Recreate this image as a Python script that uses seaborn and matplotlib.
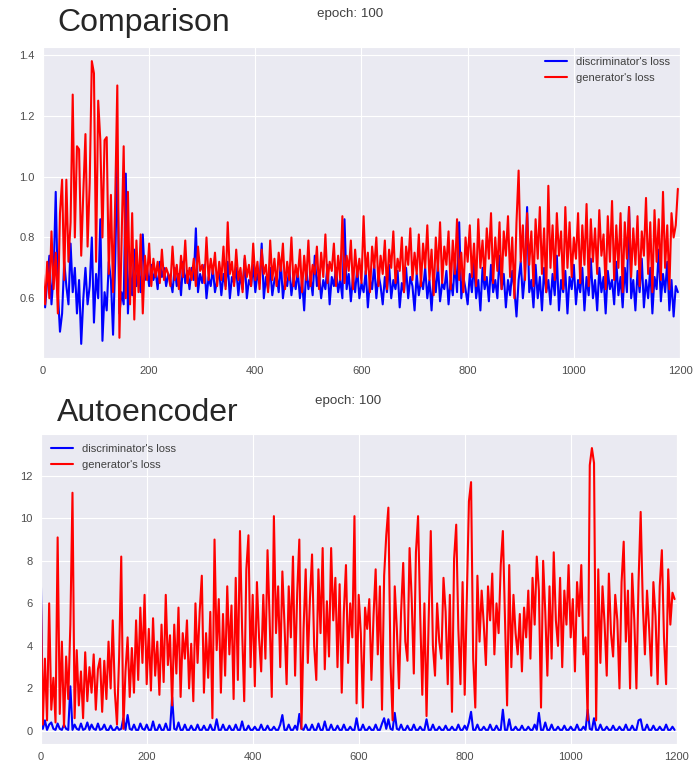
import numpy as np
import pandas as pd
import seaborn as sns
import matplotlib.pyplot as plt

# loss values, one sample every 4 epochs
epochs = np.arange(0, 1200, 4)

disc_cmp = [0.60, 0.57, 0.66, 0.74, 0.58, 0.68, 0.95, 0.62, 0.49, 0.55, 0.72, 0.64, 0.58, 0.78, 0.62, 0.70, 0.55, 0.66, 0.45, 0.60,
            0.70, 0.58, 0.64, 0.80, 0.52, 0.68, 0.60, 0.86, 0.46, 0.62, 0.56, 0.72, 0.66, 0.48, 0.72, 1.05, 0.55, 0.62, 0.58, 1.01,
            0.55, 0.70, 0.61, 0.76, 0.64, 0.69, 0.62, 0.81, 0.66, 0.70, 0.64, 0.71, 0.66, 0.69, 0.63, 0.72, 0.67, 0.70, 0.64, 0.68,
            0.66, 0.62, 0.70, 0.64, 0.68, 0.61, 0.72, 0.65, 0.69, 0.63, 0.70, 0.66, 0.83, 0.62, 0.68, 0.65, 0.71, 0.60, 0.67, 0.64,
            0.70, 0.62, 0.66, 0.69, 0.61, 0.68, 0.64, 0.72, 0.60, 0.67, 0.65, 0.70, 0.61, 0.68, 0.63, 0.73, 0.60, 0.66, 0.64, 0.71,
            0.62, 0.68, 0.65, 0.78, 0.60, 0.67, 0.63, 0.70, 0.61, 0.66, 0.68, 0.62, 0.72, 0.60, 0.66, 0.64, 0.70, 0.61, 0.67, 0.63,
            0.69, 0.60, 0.66, 0.56, 0.70, 0.63, 0.67, 0.61, 0.74, 0.64, 0.68, 0.60, 0.66, 0.63, 0.71, 0.58, 0.67, 0.64, 0.70, 0.62,
            0.66, 0.60, 0.86, 0.63, 0.68, 0.59, 0.67, 0.62, 0.70, 0.60, 0.65, 0.62, 0.69, 0.57, 0.66, 0.63, 0.71, 0.60, 0.68, 0.64,
            0.58, 0.67, 0.62, 0.71, 0.60, 0.66, 0.63, 0.69, 0.57, 0.65, 0.62, 0.70, 0.60, 0.67, 0.64, 0.56, 0.68, 0.61, 0.66, 0.63,
            0.70, 0.60, 0.66, 0.56, 0.68, 0.62, 0.71, 0.59, 0.65, 0.63, 0.69, 0.58, 0.66, 0.61, 0.72, 0.62, 0.85, 0.60, 0.67, 0.63,
            0.58, 0.68, 0.62, 0.72, 0.60, 0.66, 0.56, 0.70, 0.63, 0.67, 0.59, 0.71, 0.62, 0.66, 0.60, 0.74, 0.63, 0.68, 0.57, 0.66,
            0.61, 0.69, 0.63, 0.54, 0.66, 0.72, 0.60, 0.68, 0.90, 0.62, 0.66, 0.57, 0.71, 0.60, 0.67, 0.56, 0.70, 0.62, 0.66, 0.58,
            0.68, 0.61, 0.74, 0.56, 0.66, 0.62, 0.69, 0.55, 0.67, 0.63, 0.71, 0.58, 0.66, 0.62, 0.70, 0.56, 0.67, 0.61, 0.73, 0.60,
            0.66, 0.56, 0.70, 0.62, 0.67, 0.55, 0.69, 0.63, 0.66, 0.58, 0.72, 0.61, 0.67, 0.57, 0.70, 0.62, 0.90, 0.60, 0.66, 0.56,
            0.69, 0.62, 0.73, 0.57, 0.66, 0.60, 0.70, 0.55, 0.67, 0.63, 0.76, 0.59, 0.68, 0.62, 0.72, 0.56, 0.66, 0.54, 0.64, 0.62]

gen_cmp = [0.68, 0.58, 0.72, 0.60, 0.82, 0.63, 0.75, 0.55, 0.88, 0.99, 0.66, 0.99, 0.72, 0.85, 1.27, 0.80, 1.10, 1.09, 0.74, 0.95,
           1.14, 0.77, 0.98, 1.38, 1.34, 0.72, 1.25, 1.12, 0.80, 1.12, 1.13, 0.68, 0.94, 0.62, 0.92, 1.30, 0.47, 0.78, 1.10, 0.60,
           0.95, 0.58, 0.88, 0.53, 0.79, 0.62, 0.81, 0.55, 0.74, 0.66, 0.78, 0.64, 0.73, 0.67, 0.72, 0.65, 0.76, 0.66, 0.70, 0.68,
           0.64, 0.77, 0.66, 0.71, 0.63, 0.74, 0.67, 0.79, 0.65, 0.70, 0.66, 0.73, 0.64, 0.77, 0.69, 0.71, 0.65, 0.80, 0.66, 0.73,
           0.68, 0.75, 0.64, 0.72, 0.66, 0.77, 0.63, 0.85, 0.68, 0.72, 0.64, 0.76, 0.66, 0.70, 0.62, 0.74, 0.67, 0.71, 0.64, 0.78,
           0.66, 0.72, 0.63, 0.76, 0.68, 0.71, 0.62, 0.79, 0.66, 0.73, 0.64, 0.75, 0.69, 0.78, 0.63, 0.72, 0.66, 0.80, 0.64, 0.71,
           0.67, 0.76, 0.62, 0.74, 0.66, 0.79, 0.64, 0.71, 0.68, 0.77, 0.63, 0.75, 0.67, 0.81, 0.65, 0.72, 0.69, 0.78, 0.64, 0.74,
           0.66, 0.87, 0.65, 0.74, 0.69, 0.79, 0.63, 0.76, 0.67, 0.73, 0.65, 0.87, 0.68, 0.75, 0.62, 0.77, 0.70, 0.80, 0.64, 0.74,
           0.68, 0.79, 0.63, 0.76, 0.70, 0.82, 0.65, 0.73, 0.69, 0.80, 0.62, 0.77, 0.71, 0.83, 0.66, 0.75, 0.68, 0.81, 0.64, 0.78,
           0.70, 0.84, 0.66, 0.76, 0.61, 0.80, 0.69, 0.85, 0.65, 0.77, 0.71, 0.82, 0.63, 0.79, 0.68, 0.86, 0.66, 0.75, 0.62, 0.80,
           0.72, 0.84, 0.67, 0.78, 0.64, 0.86, 0.70, 0.79, 0.66, 0.83, 0.73, 0.88, 0.65, 0.80, 0.69, 0.85, 0.63, 0.82, 0.74, 0.87,
           0.67, 0.80, 0.60, 0.85, 1.02, 0.72, 0.84, 0.66, 0.88, 0.71, 0.82, 0.64, 0.86, 0.73, 0.90, 0.68, 0.83, 0.62, 0.97, 0.70,
           0.84, 0.66, 0.88, 0.74, 0.82, 0.63, 0.90, 0.70, 0.85, 0.67, 0.80, 0.73, 0.88, 0.65, 0.84, 0.71, 0.91, 0.64, 0.86, 0.72,
           0.83, 0.68, 0.89, 0.74, 0.81, 0.63, 0.87, 0.72, 0.92, 0.66, 0.84, 0.70, 0.88, 0.62, 0.85, 0.73, 0.90, 0.67, 0.83, 0.71,
           0.87, 0.64, 0.82, 0.74, 0.93, 0.68, 0.85, 0.62, 0.89, 0.72, 0.86, 0.66, 0.95, 0.70, 0.84, 0.63, 0.88, 0.80, 0.84, 0.96]

disc_ae = [7.8, 0.1, 0.5, 0.05, 0.3, 0.4, 0.1, 0.05, 0.35, 0.1, 0.05, 0.3, 0.1, 0.05, 2.1, 0.05, 0.3, 0.1, 0.05, 0.35,
           0.05, 0.1, 0.4, 0.05, 0.3, 0.1, 0.05, 0.35, 0.05, 0.1, 0.3, 0.05, 0.05, 0.25, 0.05, 0.05, 0.2, 0.05, 0.1, 0.6,
           0.05, 0.75, 0.1, 0.05, 0.3, 0.05, 0.05, 0.35, 0.1, 0.05, 0.3, 0.05, 0.05, 0.45, 0.05, 0.05, 0.3, 0.05, 0.05, 0.35,
           0.05, 0.05, 1.6, 0.1, 0.05, 0.4, 0.05, 0.05, 0.3, 0.05, 0.05, 0.25, 0.05, 0.05, 0.3, 0.05, 0.05, 0.25, 0.05, 0.05,
           0.3, 0.05, 0.05, 0.55, 0.05, 0.05, 0.3, 0.05, 0.05, 0.25, 0.05, 0.05, 0.3, 0.05, 0.05, 0.45, 0.05, 0.05, 0.25, 0.05,
           0.05, 0.2, 0.05, 0.05, 0.3, 0.05, 0.05, 0.25, 0.05, 0.05, 0.2, 0.05, 0.05, 0.3, 0.75, 0.05, 0.05, 0.3, 0.05, 0.05,
           0.25, 0.05, 0.8, 0.1, 0.05, 0.3, 0.05, 0.05, 0.3, 0.05, 0.05, 0.35, 0.05, 0.05, 0.45, 0.05, 0.05, 0.3, 0.05, 0.05,
           0.25, 0.05, 0.05, 0.3, 0.05, 0.05, 0.2, 0.05, 0.05, 0.6, 0.05, 0.05, 0.3, 0.05, 0.05, 0.2, 0.05, 0.05, 0.3, 0.05,
           0.05, 0.35, 0.6, 0.1, 0.55, 0.1, 0.05, 0.85, 0.1, 0.05, 0.3, 0.05, 0.05, 0.25, 0.05, 0.05, 0.3, 0.05, 0.05, 0.2,
           0.05, 0.05, 0.55, 0.05, 0.05, 0.3, 0.05, 0.05, 0.2, 0.05, 0.05, 0.25, 0.05, 0.05, 0.2, 0.05, 0.05, 0.3, 0.05, 0.05,
           0.25, 0.05, 0.4, 0.9, 0.05, 0.05, 0.3, 0.05, 0.05, 0.2, 0.05, 0.05, 0.3, 0.05, 0.05, 0.25, 0.05, 0.05, 1.0, 0.05,
           0.05, 0.55, 0.05, 0.05, 0.2, 0.05, 0.05, 0.25, 0.05, 0.05, 0.2, 0.05, 0.05, 0.3, 0.05, 0.85, 0.05, 0.05, 0.4, 0.05,
           0.05, 0.3, 0.05, 0.05, 0.2, 0.05, 0.05, 0.25, 0.05, 0.05, 0.2, 0.05, 0.05, 0.3, 0.05, 0.05, 0.2, 0.05, 1.0, 0.1,
           0.05, 0.6, 0.05, 0.05, 0.3, 0.05, 0.05, 0.2, 0.05, 0.05, 0.25, 0.05, 0.05, 0.2, 0.05, 0.05, 0.3, 0.05, 0.05, 0.25,
           0.05, 0.05, 0.5, 0.55, 0.05, 0.05, 0.3, 0.05, 0.05, 0.25, 0.05, 0.05, 0.2, 0.05, 0.05, 0.3, 0.05, 0.05, 0.2, 0.05]

gen_ae = [7.0, 0.3, 3.4, 0.5, 6.0, 1.0, 2.5, 0.4, 9.1, 0.8, 4.2, 0.2, 3.5, 1.5, 5.0, 11.2, 0.6, 3.8, 1.2, 2.8,
          0.6, 3.7, 1.4, 3.0, 1.8, 3.6, 1.0, 2.9, 3.4, 0.9, 3.3, 1.5, 4.2, 2.0, 5.2, 1.8, 0.3, 3.5, 8.2, 0.1,
          2.8, 4.4, 1.6, 3.9, 1.8, 5.2, 2.4, 5.8, 3.2, 6.4, 2.2, 4.8, 1.9, 5.3, 2.6, 4.2, 1.7, 5.0, 2.3, 6.4,
          3.1, 4.5, 1.2, 5.0, 2.7, 5.8, 1.6, 4.6, 3.4, 5.2, 2.0, 4.1, 1.4, 6.0, 3.2, 5.6, 7.3, 1.8, 4.6, 2.5,
          5.6, 0.6, 9.0, 3.8, 6.2, 1.8, 5.5, 2.6, 6.8, 3.6, 5.9, 1.5, 7.2, 2.4, 9.4, 4.8, 1.4, 7.6, 9.2, 3.0,
          6.4, 2.1, 7.0, 4.4, 2.8, 6.4, 3.4, 8.5, 5.2, 1.6, 10.1, 4.6, 6.8, 3.0, 7.5, 5.0, 2.2, 6.8, 4.4, 8.2,
          2.6, 6.5, 9.0, 0.1, 4.8, 7.6, 3.2, 6.2, 8.3, 4.0, 2.4, 7.6, 4.6, 8.6, 2.9, 6.1, 3.5, 8.6, 5.2, 7.2,
          3.0, 6.9, 1.8, 5.6, 7.8, 3.2, 6.0, 4.4, 10.1, 1.3, 6.4, 4.6, 1.1, 5.8, 4.8, 6.2, 2.4, 5.4, 7.6, 3.6,
          6.8, 1.0, 7.3, 9.2, 10.5, 3.2, 0.5, 6.8, 4.8, 2.0, 5.6, 7.9, 4.2, 3.3, 8.6, 6.2, 2.7, 8.4, 10.1, 5.5,
          1.7, 6.0, 0.7, 5.2, 9.4, 4.0, 2.6, 6.0, 4.2, 3.4, 7.2, 5.6, 2.2, 6.4, 0.9, 8.1, 9.7, 4.8, 2.2, 7.0,
          1.7, 6.2, 10.8, 11.7, 3.4, 1.1, 7.3, 4.2, 6.6, 5.0, 3.1, 6.8, 5.2, 7.4, 3.6, 6.0, 4.6, 7.8, 9.4, 5.4,
          1.2, 7.8, 3.0, 6.4, 4.6, 3.6, 5.5, 2.8, 5.8, 4.4, 6.6, 3.4, 7.2, 5.0, 8.2, 6.6, 1.1, 8.0, 5.6, 2.6,
          6.8, 3.4, 8.4, 5.2, 4.0, 7.2, 3.0, 6.6, 5.0, 7.8, 4.4, 6.2, 2.8, 7.0, 5.4, 7.8, 3.6, 4.4, 0.5, 12.5,
          13.3, 12.6, 0.5, 7.6, 3.2, 6.8, 5.0, 2.6, 7.4, 4.6, 3.5, 6.4, 5.2, 2.0, 7.0, 8.9, 4.2, 6.6, 2.0, 7.4,
          5.2, 2.0, 7.0, 10.3, 6.0, 3.6, 6.6, 4.8, 2.6, 7.0, 5.4, 2.2, 6.8, 8.5, 4.4, 2.2, 7.6, 5.0, 6.5, 6.2]

sns.set_style("darkgrid")
plt.rcParams['font.family'] = ['Liberation Sans', 'DejaVu Sans']

fig = plt.figure(figsize=(6.99, 7.63), dpi=100)
ax1 = fig.add_axes([0.0615, 0.5308, 0.9113, 0.4076])
ax2 = fig.add_axes([0.0582, 0.0249, 0.9099, 0.4063])

sns.lineplot(x=epochs, y=disc_cmp, color='blue', linewidth=1.5, label="discriminator's loss", ax=ax1)
sns.lineplot(x=epochs, y=gen_cmp, color='red', linewidth=1.5, label="generator's loss", ax=ax1)
sns.lineplot(x=epochs, y=disc_ae, color='blue', linewidth=1.5, label="discriminator's loss", ax=ax2)
sns.lineplot(x=epochs, y=gen_ae, color='red', linewidth=1.5, label="generator's loss", ax=ax2)

ax1.set_yticks([0.6, 0.8, 1.0, 1.2, 1.4])
ax2.set_yticks([0, 2, 4, 6, 8, 10, 12])
for ax in (ax1, ax2):
    ax.set_xlim(0, 1200)
    ax.set_xticks([0, 200, 400, 600, 800, 1000, 1200])
    ax.tick_params(labelsize=8, labelcolor='.3', length=0, pad=5.8)
    ax.set_xlabel('')
    ax.set_ylabel('')

ax1.legend(loc='upper right', frameon=False, fontsize=8, labelcolor='.25')
ax2.legend(loc='upper left', frameon=False, fontsize=8, labelcolor='.25')

fig.text(0.0815, 0.9594, 'Comparison', fontsize=23, va='baseline', ha='left')
fig.text(0.0815, 0.4486, 'Autoencoder', fontsize=23, va='baseline', ha='left')
fig.text(0.5007, 0.9781, 'epoch: 100', fontsize=9.6, color='.25', va='baseline', ha='center')
fig.text(0.4986, 0.4705, 'epoch: 100', fontsize=9.6, color='.25', va='baseline', ha='center')

fig.savefig('out.png', dpi=100)
